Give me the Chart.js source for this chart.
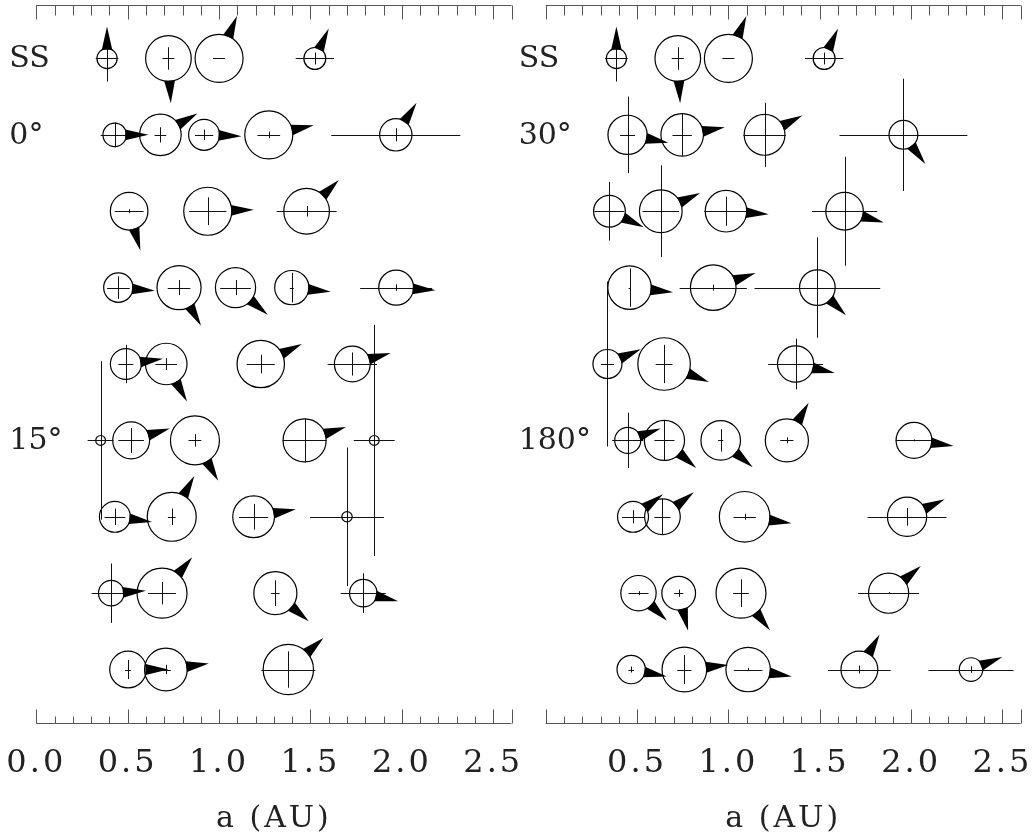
<!DOCTYPE html>
<html><head><meta charset="utf-8">
<script src="https://cdn.jsdelivr.net/npm/chart.js@4.4.1/dist/chart.umd.min.js"></script>
<style>
html,body{margin:0;padding:0;background:#fff;}
#wrap{position:relative;width:1034px;height:837px;}
canvas{position:absolute;left:0;top:0;}
</style></head><body>
<div id="wrap"><canvas id="cL" width="1034" height="837"></canvas><canvas id="cR" width="1034" height="837"></canvas></div>
<script>
// ---- Solar System reference row (row 0) ----
const ssRow  = [0, 0, 0, 0];
const ssA    = [0.387, 0.723, 1.000, 1.524];
const ssMass = [0.074, 0.860, 1.000, 0.096];
const ssDa   = [0.062, 0.033, 0.033, 0.105];
const ssInc  = [7.0, 3.4, 0.0, 1.8];
const ssSpin = [0, 177, 23, 25];

// ---- Left panel simulations (rows 1-8) ----
const leftRow  = [1,1,1,1,1, 2,2,2, 3,3,3,3,3, 4,4,4,4, 5,5,5,5,5, 6,6,6,6, 7,7,7,7, 8,8,8];
const leftA    = [0.429,0.679,0.918,1.272,1.967, 0.508,0.938,1.479, 0.449,0.781,1.090,1.398,1.969, 0.490,0.711,1.228,1.729, 0.352,0.519,0.868,1.468,1.849, 0.430,0.741,1.189,1.700, 0.410,0.688,1.308,1.789, 0.502,0.709,1.379];
const leftMass = [0.118,0.648,0.268,1.000,0.305, 0.481,1.000,0.860, 0.230,0.775,0.586,0.364,0.384, 0.268,0.648,0.964,0.417, 0.0085,0.452,1.062,0.724,0.0085, 0.268,1.062,0.657,0.0101, 0.149,1.128,0.724,0.187, 0.445,0.704,1.154];
const leftDa   = [0.077,0.032,0.050,0.062,0.353, 0.079,0.102,0.164, 0.062,0.062,0.084,0.011,0.197, 0.041,0.059,0.077,0.135, 0.071,0.070,0.035,0.120,0.112, 0.057,0.021,0.080,0.202, 0.107,0.076,0.023,0.123, 0.016,0.027,0.148];
const leftInc  = [3.8,2.3,1.6,1.0,2.0, 0.6,4.2,1.6, 3.4,2.3,2.3,4.5,1.0, 5.8,1.8,2.8,3.5, 24,3.8,1.9,6.7,35, 2.5,2.5,3.9,21, 9.0,3.4,3.9,6.0, 2.9,1.4,5.5];
const leftSpin = [90,60,92,78,33, 164,88,46, 95,150,130,96,94, 82,151,64,74, null,73,150,72,null, 98,29,80,null, 86,40,130,103, 90,82,48];
const leftRowLabels = ['SS','0°','','','','15°','','',''];
const leftTickLabels = ['0.0','0.5','1.0','1.5','2.0','2.5'];

// ---- Right panel simulations (rows 1-8) ----
const rightRow  = [1,1,1,1, 2,2,2,2, 3,3,3, 4,4,4, 5,5,5,5,5, 6,6,6,6, 7,7,7,7, 8,8,8,8,8];
const rightA    = [0.448,0.747,1.198,1.958, 0.349,0.630,0.987,1.636, 0.459,0.917,1.487, 0.338,0.648,1.368, 0.449,0.650,0.958,1.320,2.016, 0.478,0.639,1.089,1.978, 0.508,0.728,1.069,1.877, 0.468,0.759,1.108,1.717,2.328];
const rightMass = [0.544,0.695,0.612,0.216, 0.289,0.704,0.648,0.481, 0.744,0.860,0.410, 0.221,1.309,0.431, 0.160,0.586,0.560,0.724,0.417, 0.268,0.410,1.168,0.544, 0.397,0.346,1.128,0.586, 0.207,0.806,0.795,0.452,0.118];
const rightDa   = [0.041,0.053,0.116,0.350, 0.082,0.100,0.119,0.179, 0.005,0.184,0.344, 0.036,0.046,0.150, 0.085,0.055,0.014,0.036,0.100, 0.060,0.044,0.061,0.216, 0.055,0.025,0.043,0.167, 0.015,0.039,0.078,0.171,0.233];
const rightInc  = [11.6,6.3,9.7,17.0, 8.9,13.9,4.4,16.5, 5.8,0.9,15.2, 25.0,5.8,7.7, 8.4,6.0,3.4,0.9,0.3, 2.0,5.5,0.9,2.7, 0.6,1.1,4.2,0.3, 0.9,4.4,0.5,1.2,1.0];
const rightSpin = [101,80,63,143, 115,65,94,106, 96,71,134, 66,112,103, 70,131,130,30,98, 53,52,98,65, 134,166,142,50, 101,84,99,30,68];
const rightRowLabels = ['SS','30°','','','','180°','','',''];
const rightTickLabels = ['0.5','1.0','1.5','2.0','2.5'];

// ---- styling constants ----
const R_EARTH = 24;       // px radius of a 1 Earth-mass body
const DEG_PX = 3.3;       // px per degree of inclination
const ARROW_LEN = 22, ARROW_HALF = 5.5;
const FONT = 'DejaVu Serif';
const INK = '#222', AXIS = '#555';

function buildPanel(row, a, mass, da, inc, spin, rowLabels, tickLabels, left, right) {
  return {
    row: ssRow.concat(row), a: ssA.concat(a), mass: ssMass.concat(mass),
    da: ssDa.concat(da), inc: ssInc.concat(inc), spin: ssSpin.concat(spin),
    rowLabels, tickLabels, left, right
  };
}
const leftPanel  = buildPanel(leftRow, leftA, leftMass, leftDa, leftInc, leftSpin, leftRowLabels, leftTickLabels, 36.3, 511.5);
const rightPanel = buildPanel(rightRow, rightA, rightMass, rightDa, rightInc, rightSpin, rightRowLabels, rightTickLabels, 545.7, 1020.7);

function makePlugin(P) {
  return {
    id: 'planets',
    beforeDraw(chart) {
      // wider glyph spacing for axis text, like the original plotting font
      try { chart.ctx.letterSpacing = '3px'; } catch (e) {}
    },
    afterDatasetsDraw(chart) {
      const {ctx, chartArea: ca, scales: {x, y}} = chart;
      ctx.save();
      try { ctx.letterSpacing = '0px'; } catch (e) {}
      const crisp = v => Math.round(v) + 0.5;
      // crosses (eccentricity / inclination)
      ctx.strokeStyle = '#111'; ctx.lineWidth = 1;
      for (let i = 0; i < P.a.length; i++) {
        const cx = x.getPixelForValue(P.a[i]), cy = y.getPixelForValue(P.row[i]);
        ctx.beginPath();
        ctx.moveTo(x.getPixelForValue(P.a[i] - P.da[i]), crisp(cy));
        ctx.lineTo(x.getPixelForValue(P.a[i] + P.da[i]), crisp(cy));
        const h = P.inc[i] * DEG_PX;
        if (h > 0.5) { ctx.moveTo(crisp(cx), cy - h); ctx.lineTo(crisp(cx), cy + h); }
        ctx.stroke();
      }
      // spin arrows
      ctx.fillStyle = '#000';
      for (let i = 0; i < P.a.length; i++) {
        if (P.spin[i] === null) continue;
        const cx = x.getPixelForValue(P.a[i]), cy = y.getPixelForValue(P.row[i]);
        const r = R_EARTH * Math.cbrt(P.mass[i]);
        const t = P.spin[i] * Math.PI / 180;
        const dx = Math.sin(t), dy = -Math.cos(t);
        const w = Math.min(ARROW_HALF / r, 0.9);
        const b1x = cx + r * Math.sin(t + w), b1y = cy - r * Math.cos(t + w);
        const b2x = cx + r * Math.sin(t - w), b2y = cy - r * Math.cos(t - w);
        const tx = cx + dx * (r + ARROW_LEN), ty = cy + dy * (r + ARROW_LEN);
        ctx.beginPath();
        ctx.moveTo(b1x, b1y);
        ctx.lineTo(tx, ty);
        ctx.lineTo(b2x, b2y);
        ctx.closePath();
        ctx.fill();
      }
      // frame axes: top and bottom with minor/major ticks
      ctx.strokeStyle = AXIS; ctx.lineWidth = 1;
      ctx.beginPath();
      const yt = crisp(ca.top), yb = crisp(ca.bottom);
      ctx.moveTo(ca.left, yt); ctx.lineTo(ca.right, yt);
      ctx.moveTo(ca.left, yb); ctx.lineTo(ca.right, yb);
      const nMinor = Math.round((x.max - x.min) / 0.1);
      for (let k = 0; k <= nMinor; k++) {
        const v = x.min + k * 0.1;
        const px = crisp(x.getPixelForValue(v));
        const major = (k % 5 === 0) || k === nMinor;
        ctx.moveTo(px, yt); ctx.lineTo(px, yt + (major ? 14 : 10));
        ctx.moveTo(px, yb); ctx.lineTo(px, yb - (major ? 14 : 7));
      }
      ctx.stroke();
      // row labels
      ctx.fillStyle = INK;
      ctx.font = '30px "' + FONT + '"';
      ctx.textAlign = 'left'; ctx.textBaseline = 'middle';
      P.rowLabels.forEach((lab, r) => {
        if (lab) ctx.fillText(lab, ca.left - 27, y.getPixelForValue(r) + 1);
      });
      ctx.restore();
    }
  };
}

function makeChart(id, P) {
  const pts = P.a.map((v, i) => ({x: v, y: P.row[i], r: R_EARTH * Math.cbrt(P.mass[i])}));
  const tickVals = P.tickLabels.map(Number);
  return new Chart(document.getElementById(id), {
    type: 'bubble',
    data: {datasets: [{data: pts, borderColor: '#000', backgroundColor: 'rgba(0,0,0,0)', borderWidth: 1.2, hoverBorderWidth: 1.2, hoverRadius: 0, clip: false}]},
    options: {
      responsive: false, animation: false, devicePixelRatio: 1, events: [],
      layout: {autoPadding: false, padding: {left: P.left, right: 1034 - P.right, top: 5, bottom: 0}},
      plugins: {legend: {display: false}, tooltip: {enabled: false}},
      scales: {
        x: {
          type: 'linear', position: 'bottom', min: 0, max: 2.6,
          afterBuildTicks: ax => { ax.ticks = tickVals.map(v => ({value: v})); },
          ticks: {autoSkip: false, maxRotation: 0, padding: 0, color: INK,
                  font: {family: FONT, size: 32, lineHeight: 1},
                  callback: (v, i) => P.tickLabels[i]},
          grid: {display: false, drawTicks: true, tickLength: 24.5}, border: {display: false},
          title: {display: true, text: 'a (AU)', color: INK,
                  font: {family: FONT, size: 30, lineHeight: 1}, padding: {top: 24.5, bottom: 3}}
        },
        y: {type: 'linear', display: false, min: -0.7, max: 8.7, reverse: true}
      }
    },
    plugins: [makePlugin(P)]
  });
}
makeChart('cL', leftPanel);
makeChart('cR', rightPanel);
</script></body></html>
